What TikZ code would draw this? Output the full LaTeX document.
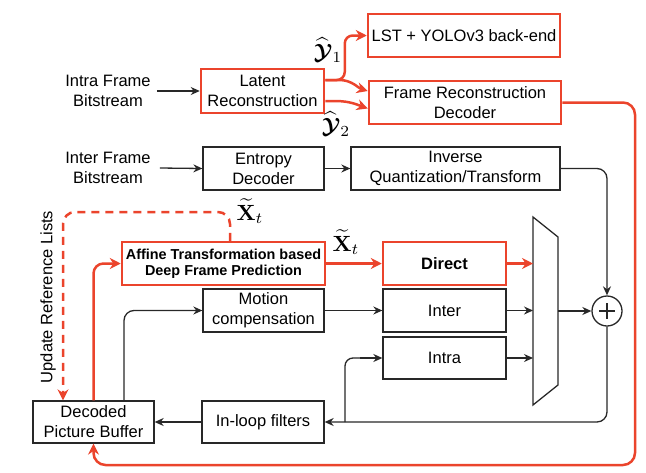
\documentclass[tikz,border=0pt]{standalone}
\usepackage[no-math]{fontspec}
\setmainfont{Liberation Sans}
\usetikzlibrary{arrows.meta,calc}
\definecolor{myred}{RGB}{235,68,44}
\definecolor{myblk}{RGB}{40,40,40}
\newcommand{\bcalY}{\mbox{\boldmath$\mathcal{Y}$}}
\begin{document}
\begin{tikzpicture}[x=1pt,y=-1pt,
  box/.style={draw=myblk, line width=1.3pt, inner sep=0pt, align=center, font=\fontsize{16.5}{20}\selectfont},
  rbox/.style={box, draw=myred, line width=2.5pt},
  lbl/.style={align=center, font=\fontsize{16.5}{20}\selectfont, inner xsep=6pt, inner ysep=0pt},
  mlbl/.style={inner sep=0pt},
  blk/.style={line width=1.3pt, draw=myblk, -{Stealth[length=9pt,width=8pt]}},
  rd/.style={line width=2.5pt, draw=myred, -{Stealth[length=11pt,width=11pt]}},
]
\useasboundingbox (0,0) rectangle (646,472);

% text inputs
\node[lbl] (intxt) at (108,91) {Intra Frame\\Bitstream};
\node[lbl, inner xsep=9pt] (intertxt) at (108,168) {Inter Frame\\Bitstream};

% boxes
\node[rbox, minimum width=123pt, minimum height=44pt] (lat) at (262.5,91) {Latent\\Reconstruction};
\node[rbox, minimum width=192pt, minimum height=43pt] (lst) at (464,35.5) {LST + YOLOv3 back-end};
\node[rbox, minimum width=192pt, minimum height=43pt] (frd) at (465,102.5) {Frame Reconstruction\\Decoder};
\node[box, minimum width=121pt, minimum height=43pt] (ent) at (263.5,168.5) {Entropy\\Decoder};
\node[box, minimum width=209pt, minimum height=43pt] (iqt) at (455.5,168.5) {Inverse\\Quantization/Transform};
\node[rbox, minimum width=203pt, minimum height=43pt, font=\fontsize{14.4}{16}\selectfont\bfseries] (aff) at (223.5,263.5) {Affine Transformation based\\Deep Frame Prediction};
\node[rbox, minimum width=123pt, minimum height=43pt, font=\fontsize{16.5}{20}\selectfont\bfseries] (dir) at (444.5,263.5) {Direct};
\node[box, minimum width=121pt, minimum height=43pt] (mc) at (263.5,310.5) {Motion\\compensation};
\node[box, minimum width=123pt, minimum height=43pt] (inter) at (444.5,310.5) {Inter};
\node[box, minimum width=123pt, minimum height=42pt] (intra) at (444.5,358) {Intra};
\node[box, minimum width=121pt, minimum height=42pt] (dpb) at (93.5,422) {Decoded\\Picture Buffer};
\node[box, minimum width=122pt, minimum height=42pt] (ilf) at (263,422) {In-loop filters};
\node[draw=myblk, circle, minimum size=30pt, inner sep=0pt, line width=1.3pt] (plus) at (607,311) {};
\draw[line width=1.5pt, myblk] ($(plus.center)+(-8,0)$) -- ($(plus.center)+(8,0)$);
\draw[line width=1.5pt, myblk] ($(plus.center)+(0,-8)$) -- ($(plus.center)+(0,8)$);

% multiplexer
\draw[line width=1.3pt, myblk] (533,217) -- (558,237) -- (558,385) -- (533,405) -- cycle;
\coordinate (muxin) at (533,0);
\coordinate (muxout) at (558,311);

% labels
\node[mlbl] (y1) at (328,50) {\scalebox{2.2}{$\widehat{\bcalY}_1$}};
\node[mlbl] (y2) at (336,124) {\scalebox{2.2}{$\widehat{\bcalY}_2$}};
\node[mlbl] (xt1) at (250,211) {\scalebox{2.2}{$\widetilde{\mathbf{X}}_t$}};
\node[mlbl] (xt2) at (346,242) {\scalebox{2.2}{$\widetilde{\mathbf{X}}_t$}};
\node[lbl, rotate=90] (url) at (48,297) {Update Reference Lists};

% black connectors
\draw[blk] (intxt.east) -- (lat.west);
\draw[blk] (intertxt.east) -- (ent.west);
\draw[blk] (ent.east) -- (iqt.west);
\draw[blk, rounded corners=10pt] (iqt.east) -| (plus.north);
\draw[blk, rounded corners=10pt] ($(dpb.north)+(30.5,0)$) |- (mc.west);
\draw[blk] (mc.east) -- (inter.west);
\draw[blk] (inter.east) -- (inter.east -| muxin);
\draw[blk] (intra.east) -- (intra.east -| muxin);
\draw[blk] (muxout) -- (plus.west);
\draw[blk, rounded corners=10pt] (plus.south) |- (ilf.east);
\coordinate (br) at (345,422);
\draw[blk, -, rounded corners=8pt] (br) |- ($(intra.west)+(-20,0)$);
\draw[blk] ($(intra.west)+(-22,0)$) -- (intra.west);
\draw[blk] (ilf.west) -- (dpb.east);

% red connectors
\draw[rd, rounded corners=8pt] ($(lat.east)+(0,-11)$) -| ($(lst.west)+(-22,0)$) -- (lst.west);
\draw[rd] ($(lat.east)+(0,-11)$) -- ++(14,0) .. controls (352,80) and (358,88) .. ($(frd.west)+(0,-11.5)$);
\draw[rd] ($(lat.east)+(0,10)$) -- ++(10,0) .. controls (350,101) and (358,105) .. ($(frd.west)+(0,6)$);
\draw[rd, rounded corners=12pt] (frd.east) -| (635,465) -| (dpb.south);
\draw[rd, rounded corners=10pt] (dpb.north) |- (aff.west);
\draw[rd] (aff.east) -- (dir.west);
\draw[rd] (dir.east) -- (dir.east -| muxin);
\coordinate (dtop) at (63,212);
\draw[rd, dash pattern=on 8pt off 6pt, rounded corners=12pt] ($(aff.north)+(6.5,0)$) |- (dtop) -- (dtop |- dpb.north);
\end{tikzpicture}
\end{document}
